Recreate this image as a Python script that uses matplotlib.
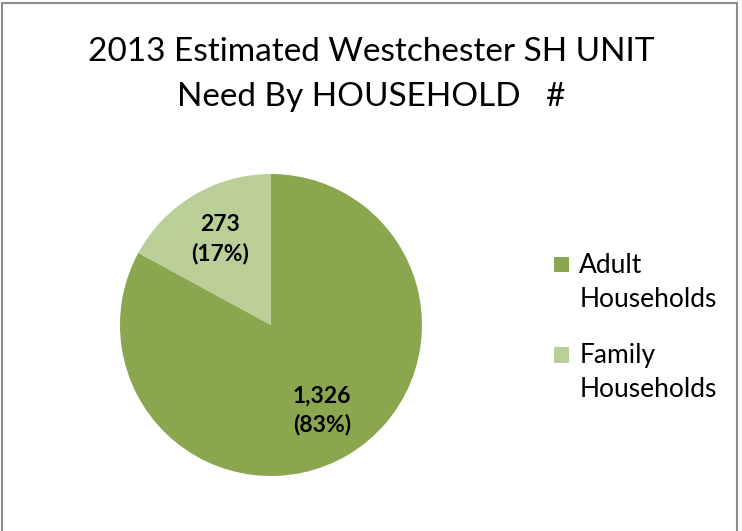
import numpy as np
import matplotlib.pyplot as plt
from matplotlib.patches import Rectangle
from matplotlib.legend_handler import HandlerPatch

plt.rcParams['font.family'] = ['Lato', 'DejaVu Sans']

labels = ["Adult\nHouseholds", "Family\nHouseholds"]
values = [1326, 273]
colors = ["#8aa64f", "#bacf98"]

fig = plt.figure(figsize=(7.42, 5.31), dpi=100)
ax = fig.add_axes([0.1617, 0.1036, 0.407, 0.5687])

total = sum(values)


def fmt(v):
    return "{:,}\n({:.0f}%)".format(v, 100.0 * v / total)


wedges = ax.pie(values, colors=colors, startangle=90, counterclock=False,
                radius=1.0)[0]
for w, v in zip(wedges, values):
    ang = np.deg2rad((w.theta1 + w.theta2) / 2)
    r = 0.66
    ax.text(r * np.cos(ang), r * np.sin(ang), fmt(v),
            ha='center', va='center', fontsize=16.5, fontweight='bold',
            linespacing=1.42)
ax.set_xlim(-1, 1)
ax.set_ylim(-1, 1)
ax.set_aspect('equal')
ax.axis('off')

fig.text(0.5, 0.86, "2013 Estimated Westchester SH UNIT\nNeed By HOUSEHOLD   #",
         ha='center', va='center', fontsize=24, linespacing=1.6)


# legend squares sit next to the first line of each label
def top_square(legend, orig_handle, xdescent, ydescent, width, height, fontsize):
    return Rectangle((-xdescent, -ydescent + 0.7 * fontsize), width, height)


leg = fig.legend(wedges, labels, loc='center left', bbox_to_anchor=(0.715, 0.383),
                 frameon=False, fontsize=19, handlelength=0.55, handleheight=0.55,
                 handletextpad=0.4, labelspacing=1.2,
                 handler_map={type(wedges[0]): HandlerPatch(patch_func=top_square)})
for t in leg.get_texts():
    t.set_linespacing(1.45)

# outer border of the chart area
fig.add_artist(Rectangle((0.003, -0.01), 0.99, 1.004, transform=fig.transFigure,
                         fill=False, edgecolor='#8c8c8c', linewidth=1.5))

fig.savefig("out.png", dpi=100)
